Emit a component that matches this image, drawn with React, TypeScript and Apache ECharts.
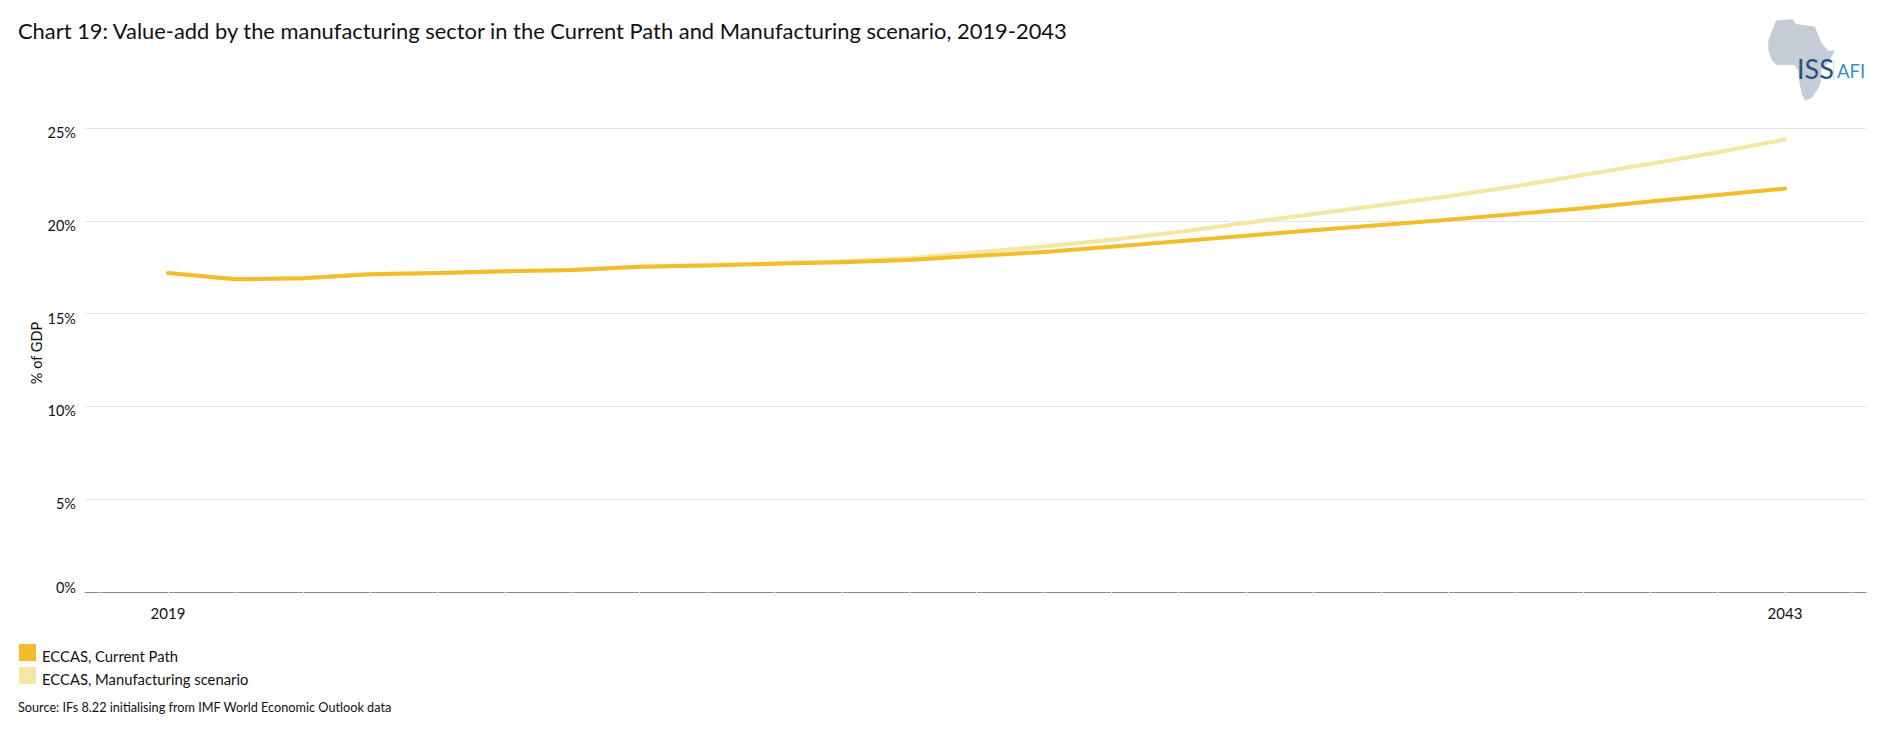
import React, { useEffect, useRef } from "react";
import * as echarts from "echarts";

const titleText = "Chart 19: Value-add by the manufacturing sector in the Current Path and Manufacturing scenario, 2019-2043";
const sourceText = "Source: IFs 8.22 initialising from IMF World Economic Outlook data";
const years = [2019, 2020, 2021, 2022, 2023, 2024, 2025, 2026, 2027, 2028, 2029, 2030, 2031, 2032, 2033, 2034, 2035, 2036, 2037, 2038, 2039, 2040, 2041, 2042, 2043];
const currentPath = [17.19, 16.85, 16.9, 17.12, 17.19, 17.28, 17.35, 17.53, 17.59, 17.68, 17.76, 17.89, 18.11, 18.32, 18.6, 18.9, 19.2, 19.49, 19.78, 20.06, 20.37, 20.67, 21.04, 21.39, 21.74];
const manufacturing = [17.19, 16.85, 16.9, 17.12, 17.19, 17.28, 17.35, 17.53, 17.6, 17.71, 17.82, 17.98, 18.3, 18.62, 18.98, 19.4, 19.88, 20.37, 20.84, 21.32, 21.86, 22.47, 23.07, 23.69, 24.38];
const labelYears = [2019, 2043];
const tickYears = [2018, 2019, 2020, 2021, 2022, 2023, 2024, 2025, 2026, 2027, 2028, 2029, 2030, 2031, 2032, 2033, 2034, 2035, 2036, 2037, 2038, 2039, 2040, 2041, 2042, 2043, 2044];
const currentName = "ECCAS, Current Path";
const scenarioName = "ECCAS, Manufacturing scenario";
const africa = [[48,32],[70,30],[98,28],[108,42],[130,45],[165,50],[175,75],[185,100],[205,122],[225,122],[215,140],[205,160],[185,175],[183,215],[175,235],[165,250],[155,265],[135,272],[125,250],[118,215],[115,185],[105,165],[75,165],[50,165],[35,150],[25,120],[25,90],[35,65]];

const FONT = "Lato, 'Open Sans', sans-serif";

export default function App() {
  const ref = useRef<HTMLDivElement>(null);
  useEffect(() => {
    document.body.style.margin = "0";
    document.body.style.overflow = "hidden";
    const chart = echarts.init(ref.current!, null, { renderer: "svg" });
    chart.setOption({
      animation: false,
      backgroundColor: "#ffffff",
      textStyle: { fontFamily: FONT, color: "#111111" },
      title: {
        text: titleText,
        left: 18,
        top: 19,
        padding: 0,
        textStyle: { fontFamily: FONT, fontSize: 21.9, fontWeight: 400, color: "#111111" },
      },
      legend: {
        orient: "vertical",
        left: 19,
        top: 644,
        padding: 0,
        itemWidth: 17,
        itemHeight: 17,
        itemGap: 4,
        icon: "rect",
        selectedMode: false,
        data: [currentName, scenarioName],
        formatter: (name: string) => `{a|${name}}`,
        textStyle: {
          fontFamily: FONT,
          fontSize: 14.8,
          color: "#111111",
          rich: { a: { fontFamily: FONT, fontSize: 14.8, color: "#111111", padding: [6, 0, 0, 1] } },
        },
      },
      grid: { left: 85, right: 14, top: 128, height: 464, containLabel: false },
      xAxis: {
        type: "value",
        min: 2017.768,
        max: 2044.202,
        splitLine: { show: false },
        axisLine: { show: true, lineStyle: { color: "#8a8a8a", width: 1 } },
        axisTick: { show: true, length: 4, customValues: tickYears, lineStyle: { color: "#eeeeee" } },
        axisLabel: {
          customValues: labelYears,
          formatter: (v: number) => String(v),
          fontFamily: FONT,
          fontSize: 15,
          color: "#111111",
          margin: 13,
        },
      },
      yAxis: {
        type: "value",
        min: 0,
        max: 25,
        interval: 5,
        name: "% of GDP",
        nameLocation: "middle",
        nameGap: 41,
        nameMoveOverlap: false,
        nameTextStyle: { fontFamily: FONT, fontSize: 14.5, color: "#111111", padding: [0, 0, 0, 14] },
        axisLine: { show: false },
        axisTick: { show: false },
        splitLine: { lineStyle: { color: "#e4e4e4", width: 1 } },
        axisLabel: {
          margin: 9,
          formatter: (v: number) => (v === 0 ? `{z|${v}%}` : `{n|${v}%}`),
          rich: {
            n: { fontFamily: FONT, fontSize: 14.5, color: "#111111", padding: [9, 0, 0, 0] },
            z: { fontFamily: FONT, fontSize: 14.5, color: "#111111", padding: [0, 0, 9, 0] },
          },
        },
      },
      series: [
        {
          name: scenarioName,
          type: "line",
          symbol: "none",
          smooth: false,
          itemStyle: { color: "#f5e6a3" },
          lineStyle: { color: "#f5e6a3", width: 4, cap: "round", join: "round" },
          data: years.map((y, i) => [y, manufacturing[i]]),
        },
        {
          name: currentName,
          type: "line",
          symbol: "none",
          smooth: false,
          itemStyle: { color: "#f2bc2a" },
          lineStyle: { color: "#f2bc2a", width: 4, cap: "round", join: "round" },
          data: years.map((y, i) => [y, currentPath[i]]),
        },
      ],
      graphic: [
        {
          type: "text",
          left: 18,
          top: 700,
          style: { text: sourceText, font: `12.7px ${FONT}`, fill: "#111111" },
        },
        {
          type: "polygon",
          x: 1760,
          y: 10,
          scaleX: 1 / 3,
          scaleY: 1 / 3,
          shape: { points: africa },
          style: { fill: "#c5ccd6" },
          z: 5,
        },
        {
          type: "text",
          x: 1797,
          y: 55,
          style: { text: "ISS", font: `27px ${FONT}`, fill: "#24527f" },
          z: 6,
        },
        {
          type: "rect",
          shape: { x: 1833, y: 60, width: 1, height: 20 },
          style: { fill: "#cfe0d8" },
          z: 6,
        },
        {
          type: "text",
          x: 1837,
          y: 61,
          style: { text: "AFI", font: `18.5px ${FONT}`, fill: "#3a8fc8" },
          z: 6,
        },
      ],
    });
    return () => chart.dispose();
  }, []);
  return <div ref={ref} style={{ width: 1880, height: 739 }} />;
}
